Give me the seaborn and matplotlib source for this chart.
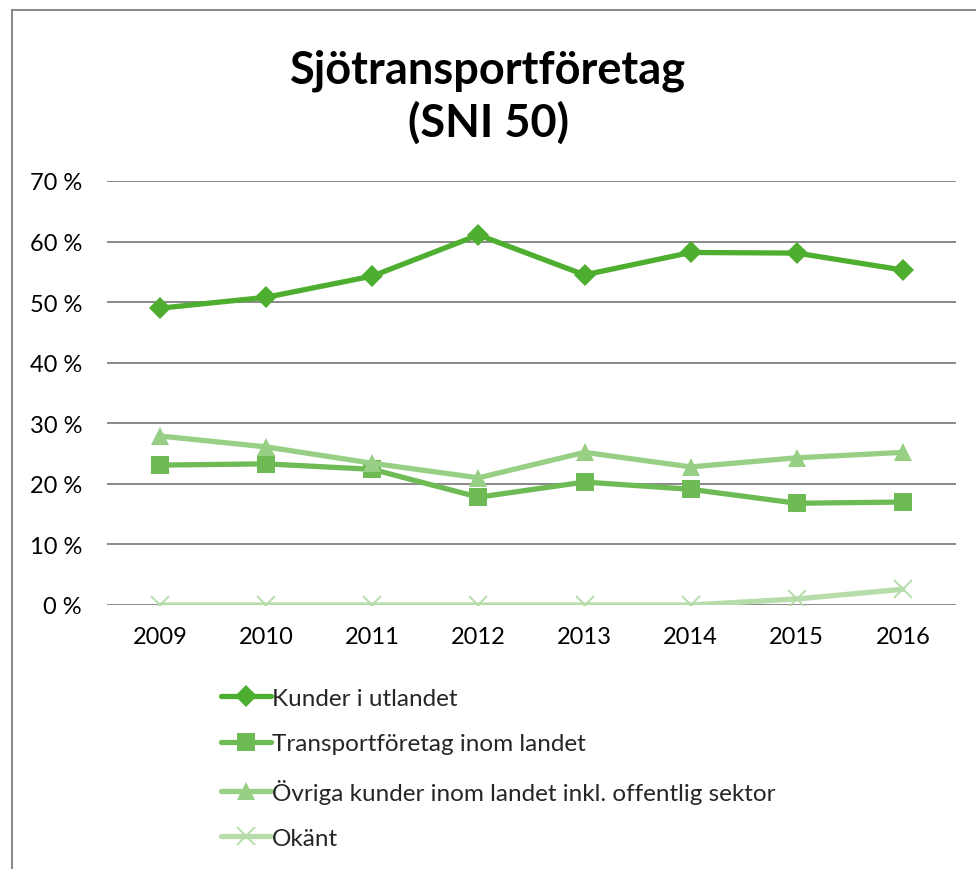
import pandas as pd
import numpy as np
import matplotlib.pyplot as plt
import seaborn as sns
from matplotlib.lines import Line2D
from matplotlib.patches import Rectangle
from matplotlib.ticker import FuncFormatter

# data (percent) --->
years = [2009, 2010, 2011, 2012, 2013, 2014, 2015, 2016]
kunder_utlandet = [49.0, 50.8, 54.3, 61.1, 54.5, 58.2, 58.1, 55.3]
transport_inom = [23.1, 23.3, 22.4, 17.8, 20.3, 19.1, 16.8, 17.0]
ovriga_inom = [27.9, 26.1, 23.4, 21.0, 25.2, 22.8, 24.3, 25.2]
okant = [0.0, 0.0, 0.0, 0.0, 0.0, 0.0, 1.0, 2.6]

series_names = ["Kunder i utlandet",
                "Transportföretag inom landet",
                "Övriga kunder inom landet inkl. offentlig sektor",
                "Okänt"]
series_colors = ["#4EAE2F", "#6EBB56", "#97CF85", "#B6DDA9"]
series_markers = ["D", "s", "^", "x"]
marker_sizes = [11, 13, 13, 13]

df = pd.DataFrame({"År": years,
                   series_names[0]: kunder_utlandet,
                   series_names[1]: transport_inom,
                   series_names[2]: ovriga_inom,
                   series_names[3]: okant})
long_df = df.melt(id_vars="År", var_name="Serie", value_name="Andel")

sns.set_style("white")
plt.rcParams['font.family'] = ['Lato', 'DejaVu Sans']

fig = plt.figure(figsize=(9.76, 8.70), dpi=100)
ax = fig.add_axes([107/976, 1-606/870, (956-107)/976, (606-182)/870])

# draw each series with seaborn --->
for name, col, mk, ms in zip(series_names, series_colors, series_markers, marker_sizes):
    sub = long_df[long_df["Serie"] == name]
    sns.lineplot(data=sub, x="År", y="Andel", ax=ax, color=col, linewidth=3.8,
                 marker=mk, markersize=ms, markeredgecolor=col,
                 markeredgewidth=1.4 if mk == "x" else 0, legend=False, zorder=3)

ax.set_xlim(years[0]-0.5, years[-1]+0.5)
ax.set_ylim(0, 70)
ax.set_yticks(np.arange(0, 71, 10))
ax.yaxis.set_major_formatter(FuncFormatter(lambda v, p: f"{int(v)} %"))
ax.set_xticks(years)
ax.set_xticklabels([str(y) for y in years])
ax.set_xlabel("")
ax.set_ylabel("")
ax.tick_params(axis='both', length=0, labelsize=17, colors="black")
ax.tick_params(axis='y', pad=18)
ax.tick_params(axis='x', pad=15)
ax.grid(axis='y', color="#898989", linewidth=1.4)
ax.grid(axis='x', visible=False)
for s in ax.spines.values():
    s.set_visible(False)

# title --->
fig.text(0.5, 1-83/870, "Sjötransportföretag", ha='center', va='baseline',
         fontsize=32.5, fontweight='bold', color="black")
fig.text(0.5, 1-137/870, "(SNI 50)", ha='center', va='baseline',
         fontsize=32.5, fontweight='bold', color="black")

# legend --->
handles = [Line2D([], [], color=c, linewidth=3.8, marker=m, markersize=ms,
                  markeredgecolor=c, markeredgewidth=1.4 if m == "x" else 0)
           for c, m, ms in zip(series_colors, series_markers, marker_sizes)]
fig.legend(handles, series_names, loc='upper left',
           bbox_to_anchor=(199/976, 1-667/870), frameon=False, fontsize=17.5,
           handlelength=2.05, handletextpad=0.06, labelspacing=1.0)

# chart border --->
fig.patches.append(Rectangle((12/976, -0.05), 1.0, 1-11/870+0.05,
                             transform=fig.transFigure, fill=False,
                             edgecolor="#8C8C8C", linewidth=1.5))

plt.savefig("out.png", dpi=100)
